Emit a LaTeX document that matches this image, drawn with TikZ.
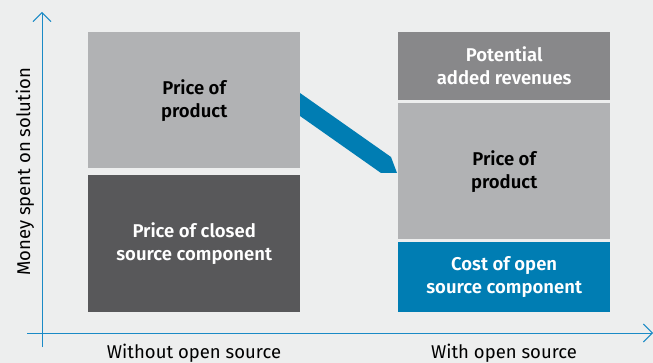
\documentclass[tikz,border=0pt]{standalone}
\usepackage{fontspec}
\setmainfont{Fira Sans}[BoldFont={Fira Sans SemiBold}]
\usetikzlibrary{arrows.meta}
\usetikzlibrary{positioning}
\definecolor{bggray}{HTML}{EDEEEE}
\definecolor{lightbox}{HTML}{B1B2B4}
\definecolor{darkbox}{HTML}{58585A}
\definecolor{midbox}{HTML}{88888A}
\definecolor{osblue}{HTML}{007DB3}
\definecolor{axisblue}{HTML}{1A8AC6}

\begin{document}
\begin{tikzpicture}[x=1pt,y=-1pt,
	axis/.style={axisblue, line width=0.9pt, -{Straight Barb[length=9pt,width=18pt,line width=0.9pt]}},
	box/.style={anchor=north west, inner sep=0pt, align=center, minimum width=212pt,
		font=\fontsize{18.5}{23}\selectfont\bfseries},
	lbl/.style={font=\fontsize{18.5}{20}\selectfont}]
	% fundo
	\fill[bggray] (0,0) rectangle (653,363);
	\useasboundingbox (0,0) rectangle (653,363);

	% eixos
	\coordinate (ybottom) at (42,347);
	\coordinate (ytop) at (42,12);
	\coordinate (xleft) at (27,333);
	\coordinate (xright) at (653,333);
	\draw[axis] (ybottom) -- (ytop);
	\draw[axis] (xleft) -- (xright);
	\node[lbl, rotate=90] (ylabel) at (25,172) {Money spent on solution};
	\node[lbl] (withoutos) at (194,353) {Without open source};
	\node[lbl] (withos) at (504,353) {With open source};

	% sem open source
	\node[box, fill=lightbox, minimum height=136pt] (lproduct) at (88,32) {Price of\\product};
	\node[box, fill=darkbox, text=white, minimum height=137pt] (lclosed) at (88,175) {Price of closed\\source component};

	% faixa
	\fill[osblue] (300,93) -- (391,157) -- (397,173) -- (381,173) -- (300,116) -- cycle;

	% com open source
	\node[box, fill=midbox, text=white, minimum height=68pt] (rrevenue) at (398,32) {Potential\\added revenues};
	\node[box, fill=lightbox, minimum height=136pt] (rproduct) at (398,103) {Price of\\product};
	\node[box, fill=osblue, text=white, minimum height=70pt] (ropen) at (398,242) {Cost of open\\source component};
\end{tikzpicture}
\end{document}
